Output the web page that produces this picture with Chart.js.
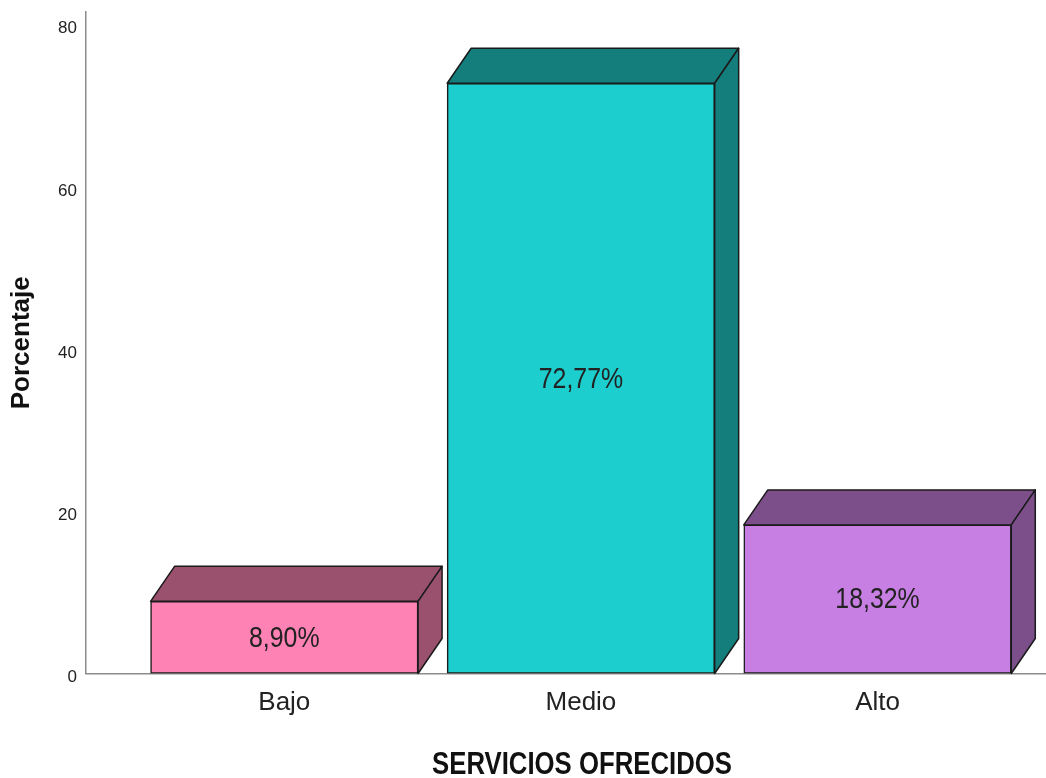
<!DOCTYPE html>
<html><head><meta charset="utf-8">
<script src="https://cdn.jsdelivr.net/npm/chart.js@4"></script>
<style>html,body{margin:0;padding:0;background:#fff;overflow:hidden}</style>
</head><body>
<canvas id="c" width="1046" height="778"></canvas>
<script>
const categories = ['Bajo', 'Medio', 'Alto'];
const percentages = [8.90, 72.77, 18.32];
const valueLabels = ['8,90%', '72,77%', '18,32%'];
const yTicks = [0, 20, 40, 60, 80];
const frontColors = ['#FF82B4', '#1DCECE', '#C87FE3'];
const sideColors = ['#9A516D', '#137E7C', '#7C4F8B'];
const xTitle = 'SERVICIOS OFRECIDOS';
const yTitle = 'Porcentaje';

const FONT = "'Liberation Sans', Arial, sans-serif";
const DEPTH_X = 24, DEPTH_Y = 35;
const NARROW = 0.83;

function narrowText(ctx, text, x, y, font, color) {
  ctx.save();
  ctx.font = font;
  ctx.fillStyle = color;
  ctx.textAlign = 'center';
  ctx.textBaseline = 'middle';
  ctx.translate(x, y);
  ctx.scale(NARROW, 1);
  ctx.fillText(text, 0, 0);
  ctx.restore();
}

const bar3d = {
  id: 'bar3d',
  afterDatasetsDraw(chart) {
    const ctx = chart.ctx;
    const meta = chart.getDatasetMeta(0);
    meta.data.forEach((bar, i) => {
      const p = bar.getProps(['x', 'y', 'base', 'width'], true);
      const l = p.x - p.width / 2, r = p.x + p.width / 2, t = p.y, b = p.base;
      ctx.save();
      ctx.lineJoin = 'round';
      ctx.lineWidth = 1.5;
      ctx.strokeStyle = '#1a1a1a';
      ctx.fillStyle = sideColors[i];
      ctx.beginPath();
      ctx.moveTo(l, t); ctx.lineTo(l + DEPTH_X, t - DEPTH_Y);
      ctx.lineTo(r + DEPTH_X, t - DEPTH_Y); ctx.lineTo(r, t); ctx.closePath();
      ctx.fill(); ctx.stroke();
      ctx.beginPath();
      ctx.moveTo(r, t); ctx.lineTo(r + DEPTH_X, t - DEPTH_Y);
      ctx.lineTo(r + DEPTH_X, b - DEPTH_Y); ctx.lineTo(r, b); ctx.closePath();
      ctx.fill(); ctx.stroke();
      ctx.restore();
      narrowText(ctx, valueLabels[i], p.x, (t + b) / 2 + 1, '30px ' + FONT, '#222');
    });
    narrowText(ctx, xTitle, 582, 765, 'bold 31px ' + FONT, '#111');
  }
};

new Chart(document.getElementById('c'), {
  type: 'bar',
  data: {
    datasets: [{
      data: categories.map((c, i) => ({ x: i, y: percentages[i] })),
      backgroundColor: frontColors,
      borderColor: '#1a1a1a',
      borderWidth: 1.5,
      borderSkipped: false,
      barThickness: 267.5
    }]
  },
  plugins: [bar3d],
  options: {
    responsive: false,
    animation: false,
    devicePixelRatio: 1,
    layout: { padding: { top: 12, left: 0, right: 0, bottom: 0 } },
    plugins: { legend: { display: false }, tooltip: { enabled: false } },
    scales: {
      x: {
        type: 'linear',
        offset: false,
        min: -0.6686,
        max: 2.568,
        grid: { display: false, drawTicks: false },
        border: { display: true, color: '#8c8c8c', width: 1.5 },
        afterBuildTicks: s => { s.ticks = categories.map((c, i) => ({ value: i })); },
        afterFit: s => { s.height = 104.5; s.paddingLeft = 0; s.paddingRight = 0; },
        ticks: {
          callback: v => categories[v],
          font: { family: FONT, size: 26 },
          color: '#222',
          padding: 14,
          maxRotation: 0,
          autoSkip: false
        }
      },
      y: {
        min: 0,
        max: 81.56,
        grid: { display: false, drawTicks: false },
        border: { display: true, color: '#8c8c8c', width: 1.5 },
        afterBuildTicks: s => { s.ticks = yTicks.map(v => ({ value: v })); },
        afterFit: s => { s.width = 86; s.paddingTop = 0; s.paddingBottom = 0; },
        ticks: {
          font: { family: FONT, size: 17 },
          color: '#222',
          padding: 9,
          labelOffset: 4
        },
        title: {
          display: true,
          text: yTitle,
          font: { family: FONT, size: 26, weight: 'bold' },
          color: '#111',
          padding: { top: 6, bottom: 0 }
        }
      }
    }
  }
});
</script>
</body></html>
